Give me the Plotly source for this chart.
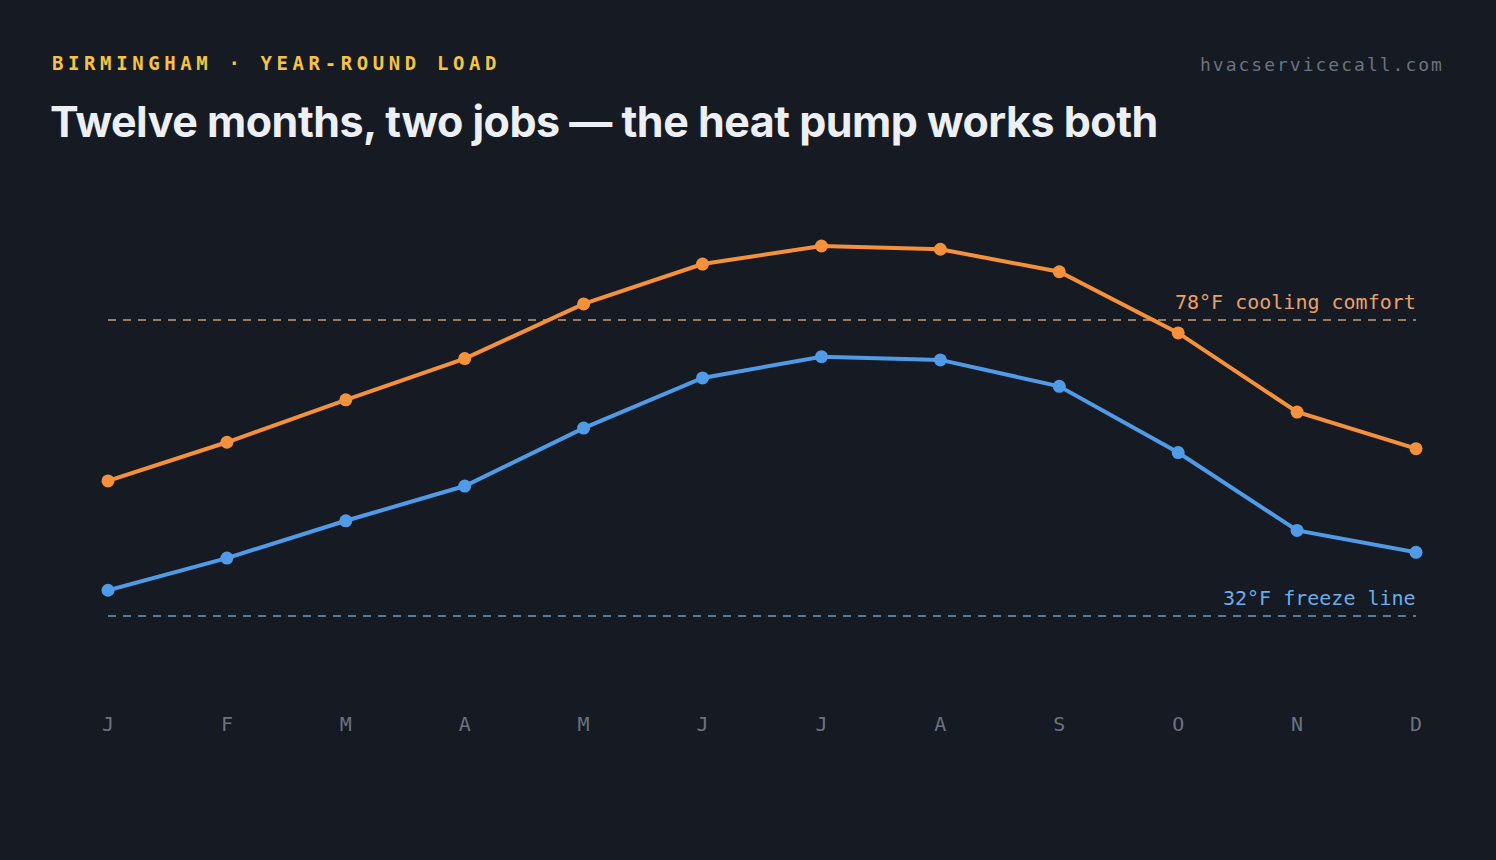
import plotly.graph_objects as go

# monthly normals, Birmingham (deg F)
months = ["J", "F", "M", "A", "M", "J", "J", "A", "S", "O", "N", "D"]
highs = [53, 59, 65.6, 72, 80.5, 86.7, 89.5, 89, 85.5, 76, 63.7, 58]
lows = [36, 41, 46.8, 52.2, 61.2, 69, 72.3, 71.8, 67.7, 57.4, 45.3, 41.9]
cooling_ref = 78
freeze_ref = 32

BG = "#161a22"
ORANGE = "#f5913a"
BLUE = "#4f9be8"
MONO = "DejaVu Sans Mono, Liberation Mono, monospace"

W, H = 1496, 860
L, R, T, B = 108, 1416, 180, 705  # plot area in pixels


def px(x):
    return (x - L) / (R - L)


def py(y):
    return (B - y) / (B - T)


xs = list(range(len(months)))

fig = go.Figure()
fig.add_trace(go.Scatter(x=xs, y=highs, mode="lines+markers", cliponaxis=False,
                         line=dict(color=ORANGE, width=4),
                         marker=dict(color=ORANGE, size=13), hoverinfo="skip"))
fig.add_trace(go.Scatter(x=xs, y=lows, mode="lines+markers", cliponaxis=False,
                         line=dict(color=BLUE, width=4),
                         marker=dict(color=BLUE, size=13), hoverinfo="skip"))

# reference lines
fig.add_shape(type="line", x0=0, x1=11, y0=cooling_ref, y1=cooling_ref, layer="below",
              line=dict(color="#9a7a62", width=2, dash="8px,7px"))
fig.add_shape(type="line", x0=0, x1=11, y0=freeze_ref, y1=freeze_ref, layer="below",
              line=dict(color="#56789a", width=2, dash="8px,7px"))

fig.add_annotation(x=11, y=cooling_ref, xref="x", yref="y", text="78°F cooling comfort",
                   xanchor="right", yanchor="bottom", yshift=4, xshift=2, showarrow=False,
                   font=dict(family=MONO, size=20, color="#e9a06c"))
fig.add_annotation(x=11, y=freeze_ref, xref="x", yref="y", text="32°F freeze line",
                   xanchor="right", yanchor="bottom", yshift=4, xshift=2, showarrow=False,
                   font=dict(family=MONO, size=20, color="#6aaeea"))

# header texts
fig.add_annotation(x=px(50), y=py(63), xref="paper", yref="paper",
                   text='<span style="letter-spacing:4.6px"><b>BIRMINGHAM · YEAR-ROUND LOAD</b></span>',
                   xanchor="left", yanchor="middle", showarrow=False,
                   font=dict(family=MONO, size=19, color="#f6c343"))
fig.add_annotation(x=px(1446), y=py(65), xref="paper", yref="paper",
                   text='<span style="letter-spacing:2px">hvacservicecall.com</span>',
                   xanchor="right", yanchor="middle", showarrow=False,
                   font=dict(family=MONO, size=18, color="#6b7280"))
fig.add_annotation(x=px(48), y=py(121), xref="paper", yref="paper",
                   text='<span style="letter-spacing:-0.5px"><b>Twelve months, two jobs — the heat pump works both</b></span>',
                   xanchor="left", yanchor="middle", showarrow=False,
                   font=dict(family="Inter, Noto Sans, sans-serif", size=43, color="#eceff3"))

fig.update_layout(
    width=W, height=H,
    paper_bgcolor=BG, plot_bgcolor=BG,
    margin=dict(l=L, r=W - R, t=T, b=H - B),
    showlegend=False,
    xaxis=dict(range=[0, 11], tickmode="array", tickvals=xs, ticktext=months,
               showgrid=False, zeroline=False, showline=False, ticks="",
               ticklabelstandoff=5,
               tickfont=dict(family=MONO, size=20, color="#6b7280")),
    yaxis=dict(range=[18.17, 99.76], showgrid=False, zeroline=False,
               showline=False, showticklabels=False),
)

fig.write_html("out.html", config={"displayModeBar": False},
               post_script="document.body.style.margin='0';document.body.style.background='#161a22';")
